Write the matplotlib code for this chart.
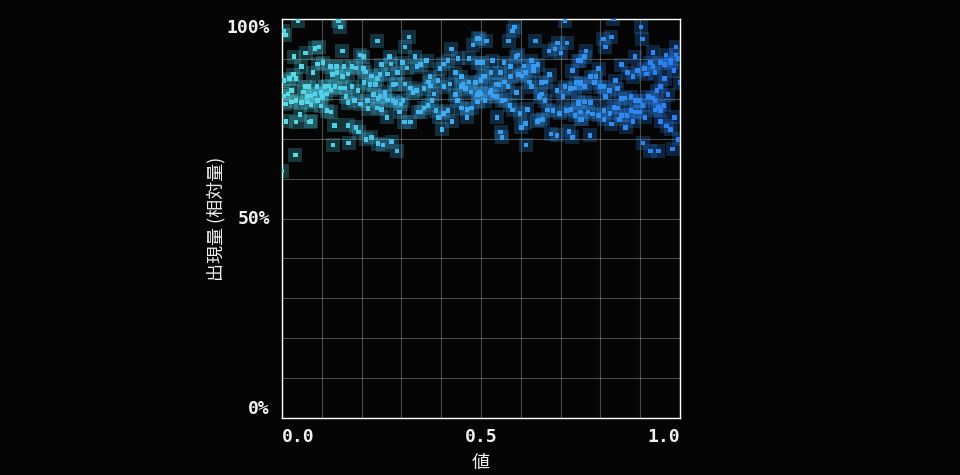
import matplotlib
matplotlib.use("Agg")
import matplotlib.pyplot as plt
from matplotlib.colors import LinearSegmentedColormap
import numpy as np

x_vals = [
    .040, .141, .146, .003, .008, .239, .083, .093, .151, .196, .204, .030, .060, .249, .090, .103, .121, .136, .156, .048,
    .176, .186, .204, .209, .078, .126, .138, .151, .166, .028, .018, .035, .224, .239, .246, .003, .176, .191, .206, .221,
    .234, .058, .068, .088, .108, .116, .023, .015, .003, .008, .055, .063, .073, .083, .098, .111, .123, .133, .146, .158,
    .161, .166, .183, .198, .214, .229, .241, .239, .216, .023, .035, .048, .065, .073, .090, .101, .098, .113, .123, .045,
    .035, .073, .070, .010, .131, .166, .186, .193, .211, .224, .241, .128, .168, .033, .000,
    .319, .309, .492, .480, .425, .442, .470, .271, .274, .302, .314, .334, .339, .349, .364, .372, .397, .405, .417, .435,
    .450, .492, .500, .266, .291, .286, .281, .259, .259, .246, .309, .322, .329, .337, .357, .369, .374, .382, .392, .407,
    .422, .435, .450, .455, .462, .470, .475, .487, .497, .249, .266, .279, .286, .299, .304, .296, .342, .349, .357, .367,
    .377, .387, .394, .405, .417, .427, .440, .450, .465, .477, .492, .465, .264, .307, .322, .402, .254, .276, .289,
    .585, .580, .711, .497, .513, .570, .636, .693, .716, .686, .701, .671, .588, .593, .503, .528, .558, .575, .608, .626,
    .631, .643, .611, .603, .595, .631, .621, .626, .653, .663, .673, .510, .505, .525, .548, .538, .545, .568, .575, .560,
    .744, .729, .711, .724, .736, .739, .751, .691, .706, .492, .500, .510, .523, .530, .538, .553, .560, .573, .580, .598,
    .616, .648, .651, .661, .668, .681, .698, .714, .726, .736, .744, .751, .525, .590, .540, .611, .601, .648, .641, .656,
    .550, .553, .676, .691, .721, .729, .613,
    .832, .902, .905, .807, .827, .812, .764, .761, .887, .852, .932, .965, .990, .990, .977, .995, .749, .796, .776, .789,
    .786, .761, .751, .869, .882, .894, .910, .915, .925, .932, .937, .950, .962, .977, .985, .962, .952, .942, 1.000, .837,
    .842, .822, .812, .807, .799, .852, .862, .877, .889, .899, .907, .920, .930, .937, .945, .960, .970, .744, .761, .776,
    .749, .769, .781, .796, .809, .824, .834, .844, .854, .867, .877, .889, .899, .754, .809, .827, .849, .864, .882, .912,
    .937, .950, .952, .967, .977, .987, .774, .907, .925, .945, .982, .997,
]

y_vals = [
    99.5, 99.5, 98.0, 97.0, 96.0, 94.5, 92.7, 93.0, 92.0, 91.0, 90.5, 90.5, 91.5, 88.5, 88.7, 89.0, 88.0, 88.0, 88.0, 88.0,
    88.0, 87.7, 87.5, 86.7, 86.5, 86.0, 86.5, 85.5, 86.2, 86.0, 85.0, 85.0, 85.7, 85.0, 86.0, 84.5, 83.0, 82.0, 84.0, 83.5,
    83.5, 83.0, 83.0, 83.0, 83.0, 83.2, 82.0, 81.2, 80.7, 78.7, 81.7, 80.5, 80.7, 81.2, 81.5, 81.2, 82.2, 83.0, 82.7, 82.7,
    80.5, 79.0, 79.5, 78.7, 79.5, 81.0, 80.0, 77.7, 77.5, 79.2, 79.5, 79.0, 79.2, 78.5, 79.5, 80.5, 78.2, 77.0, 76.7, 76.0,
    74.2, 74.4, 74.2, 74.4, 73.4, 73.4, 72.9, 71.7, 69.9, 70.4, 68.7, 68.4, 68.9, 65.9, 61.9,
    95.5, 93.0, 95.2, 93.5, 92.5, 90.2, 90.2, 90.5, 88.7, 89.0, 87.7, 90.5, 88.0, 88.5, 89.5, 85.5, 87.5, 88.7, 89.5, 86.5,
    85.5, 89.0, 84.5, 86.2, 86.5, 83.7, 83.5, 81.7, 80.7, 80.5, 83.7, 82.7, 81.5, 82.0, 82.5, 84.2, 83.2, 81.2, 84.5, 83.0,
    83.7, 81.0, 83.0, 83.5, 82.5, 84.2, 81.7, 84.0, 81.5, 77.4, 79.7, 79.5, 79.0, 78.7, 79.5, 76.7, 76.7, 76.7, 77.7, 78.4,
    79.5, 77.0, 75.4, 76.4, 77.0, 74.4, 79.5, 77.7, 77.4, 77.7, 79.2, 75.4, 75.4, 74.2, 74.2, 72.4, 68.4, 69.2, 66.9,
    98.0, 97.0, 99.5, 95.0, 94.5, 94.5, 94.5, 94.0, 94.0, 92.5, 91.5, 92.0, 90.5, 91.0, 89.0, 89.5, 89.0, 88.0, 88.2, 89.5,
    88.0, 88.5, 86.5, 85.7, 86.0, 87.0, 84.2, 83.0, 84.0, 84.2, 86.0, 85.7, 85.5, 86.5, 86.5, 83.7, 83.5, 83.0, 85.5, 84.2,
    89.5, 87.0, 83.0, 82.5, 82.7, 84.0, 84.0, 82.0, 80.5, 81.0, 81.2, 79.5, 81.5, 80.7, 80.5, 79.5, 79.7, 78.4, 77.2, 76.4,
    77.4, 80.5, 81.2, 79.5, 77.2, 77.0, 76.4, 77.0, 77.4, 75.9, 78.9, 74.9, 82.2, 81.5, 75.4, 73.9, 72.9, 74.7, 74.4, 74.9,
    71.7, 70.4, 71.2, 70.9, 71.9, 70.4, 68.4,
    100.0, 98.0, 95.0, 95.0, 95.5, 93.0, 92.0, 90.5, 90.5, 88.5, 91.7, 91.0, 93.0, 91.0, 89.5, 90.0, 89.5, 87.5, 85.5, 85.5,
    84.0, 83.0, 83.7, 86.5, 85.5, 87.0, 87.5, 86.2, 89.0, 88.0, 86.5, 89.0, 88.5, 89.0, 87.0, 85.0, 83.0, 82.0, 84.0, 84.5,
    82.5, 82.0, 80.5, 83.0, 83.0, 80.0, 80.2, 80.5, 79.5, 79.5, 78.4, 80.5, 80.2, 79.5, 77.9, 78.4, 81.0, 79.2, 79.2, 79.0,
    76.7, 76.7, 76.2, 75.9, 77.0, 76.4, 77.9, 77.7, 75.9, 75.9, 77.0, 76.7, 76.7, 74.9, 74.9, 73.7, 74.9, 72.9, 74.4, 75.4,
    77.2, 77.0, 74.4, 73.2, 72.4, 75.4, 70.9, 68.9, 66.9, 66.9, 67.4, 69.9,
]

x_ticks = [0.0, 0.5, 1.0]
x_tick_labels = ["0.0", "0.5", "1.0"]
y_ticks = [0, 50, 100]
y_tick_labels = ["0%", "50%", "100%"]
x_label = "値"
y_label = "出現量 (相対量)"

x = np.array(x_vals)
y = np.array(y_vals)

bg = "#050505"
fig = plt.figure(figsize=(9.6, 4.75), dpi=100, facecolor=bg)
ax = fig.add_axes([282 / 960, 57 / 475, 398 / 960, 399 / 475])
ax.set_facecolor(bg)

cmap = LinearSegmentedColormap.from_list("cb", ["#58dde6", "#3aa3f0", "#2a7ff0"])
cols = cmap(x)

ax.scatter(x, y, s=100, marker="s", c=cols, alpha=0.24, edgecolors="none", zorder=2)
ax.scatter(x, y, s=12, marker="s", c=cols, alpha=1.0, edgecolors="none", zorder=3)

ax.set_xlim(0, 1)
ax.set_ylim(0, 100)
ax.set_xticks(np.arange(0, 1.01, 0.1), minor=False)
ax.set_yticks(np.arange(0, 101, 10))
ax.grid(True, color="white", alpha=0.28, linewidth=0.8, zorder=0)
ax.set_axisbelow(True)
ax.tick_params(length=0, labelbottom=False, labelleft=False)
for sp in ax.spines.values():
    sp.set_color("white")
    sp.set_linewidth(1.0)

mono = dict(family="DejaVu Sans Mono", fontsize=13, fontweight="bold", color="#f0f0f0")
for xv, lab in zip(x_ticks, x_tick_labels):
    ha = "left" if xv == 0 else ("right" if xv == 1 else "center")
    ax.text(xv, -0.025, lab, transform=ax.get_xaxis_transform(), ha=ha, va="top", **mono)
for yv, lab in zip(y_ticks, y_tick_labels):
    va = "bottom" if yv == 0 else ("top" if yv == 100 else "center")
    ax.text(-0.03, yv, lab, transform=ax.get_yaxis_transform(), ha="right", va=va, **mono)

cjk = ["Noto Sans CJK JP", "DejaVu Sans"]
ax.text(0.5, -0.09, x_label, transform=ax.transAxes, ha="center", va="top",
        family=cjk, fontsize=13, color="#f0f0f0")
ax.text(-0.165, 0.5, y_label, transform=ax.transAxes, ha="center", va="center",
        rotation=90, family=cjk, fontsize=13, color="#f0f0f0")

fig.savefig("out.png", dpi=100, facecolor=bg)
